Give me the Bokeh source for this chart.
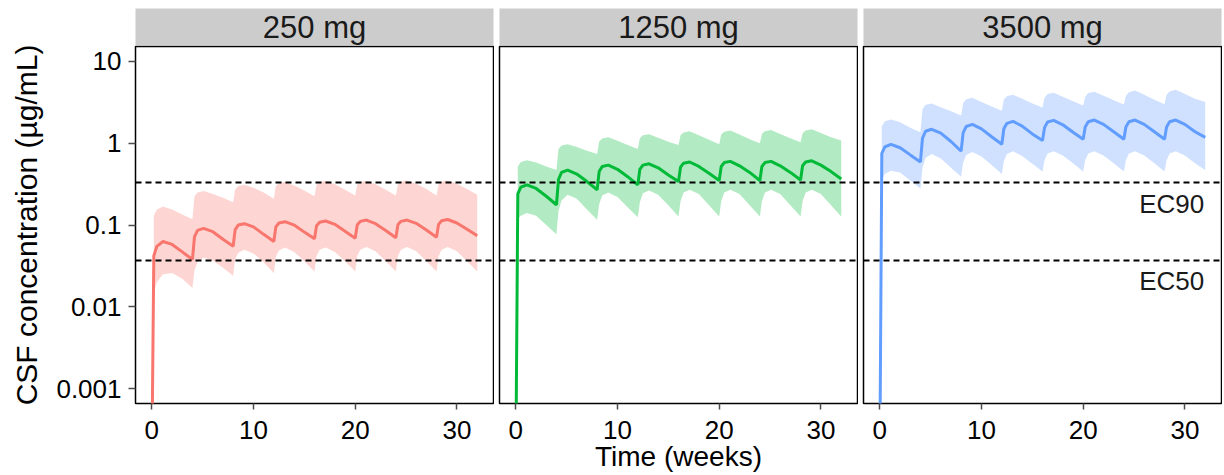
from bokeh.plotting import figure
from bokeh.models import Range1d, FixedTicker, Span
from bokeh.layouts import column, row
from bokeh.embed import file_html
from bokeh.resources import INLINE
from bokeh.core.properties import value

# ---------------- data ----------------
strip_labels = ["250 mg", "1250 mg", "3500 mg"]
colors = ["#F8766D", "#00BA38", "#619CFF"]

weeks = [0, 0.2, 0.5, 1.1, 2, 3,
         4, 4.2, 4.5, 5.1, 6, 7,
         8, 8.2, 8.5, 9.1, 10, 11,
         12, 12.2, 12.5, 13.1, 14, 15,
         16, 16.2, 16.5, 17.1, 18, 19,
         20, 20.2, 20.5, 21.1, 22, 23,
         24, 24.2, 24.5, 25.1, 26, 27,
         28, 28.2, 28.5, 29.1, 30, 31,
         32]

median_250 = [1e-4, 0.042, 0.055, 0.063, 0.058, 0.047,
              0.038, 0.072, 0.086, 0.091, 0.083, 0.067,
              0.055, 0.088, 0.100, 0.104, 0.095, 0.077,
              0.063, 0.095, 0.106, 0.110, 0.100, 0.082,
              0.068, 0.098, 0.108, 0.112, 0.102, 0.084,
              0.069, 0.100, 0.111, 0.115, 0.104, 0.086,
              0.070, 0.101, 0.111, 0.115, 0.105, 0.087,
              0.071, 0.102, 0.113, 0.117, 0.106, 0.089,
              0.074]
lower_250 = [None, 0.015, 0.020, 0.025, 0.026, 0.022,
             0.017, 0.028, 0.035, 0.040, 0.037, 0.030,
             0.024, 0.038, 0.046, 0.050, 0.045, 0.035,
             0.026, 0.041, 0.049, 0.053, 0.047, 0.036,
             0.027, 0.042, 0.050, 0.053, 0.047, 0.036,
             0.027, 0.042, 0.050, 0.054, 0.048, 0.036,
             0.027, 0.042, 0.050, 0.054, 0.048, 0.036,
             0.027, 0.042, 0.050, 0.054, 0.048, 0.036,
             0.027]
upper_250 = [None, 0.130, 0.155, 0.168, 0.155, 0.135,
             0.118, 0.225, 0.250, 0.260, 0.240, 0.215,
             0.190, 0.270, 0.300, 0.310, 0.285, 0.250,
             0.210, 0.300, 0.325, 0.335, 0.305, 0.265,
             0.225, 0.310, 0.335, 0.345, 0.315, 0.270,
             0.230, 0.310, 0.335, 0.345, 0.315, 0.270,
             0.230, 0.315, 0.340, 0.350, 0.320, 0.275,
             0.230, 0.315, 0.340, 0.350, 0.320, 0.275,
             0.235]

median_1250 = [1e-4, 0.240, 0.290, 0.310, 0.280, 0.225,
               0.177, 0.360, 0.440, 0.470, 0.420, 0.340,
               0.270, 0.450, 0.520, 0.540, 0.480, 0.390,
               0.310, 0.480, 0.540, 0.560, 0.500, 0.410,
               0.340, 0.510, 0.570, 0.590, 0.520, 0.430,
               0.350, 0.520, 0.580, 0.600, 0.530, 0.440,
               0.350, 0.520, 0.580, 0.600, 0.530, 0.440,
               0.355, 0.530, 0.590, 0.610, 0.540, 0.450,
               0.365]
lower_1250 = [None, 0.120, 0.130, 0.140, 0.130, 0.100,
              0.077, 0.150, 0.200, 0.235, 0.210, 0.155,
              0.116, 0.180, 0.230, 0.250, 0.220, 0.165,
              0.125, 0.190, 0.245, 0.265, 0.235, 0.175,
              0.127, 0.195, 0.250, 0.270, 0.240, 0.175,
              0.127, 0.195, 0.250, 0.270, 0.240, 0.175,
              0.127, 0.195, 0.250, 0.270, 0.240, 0.175,
              0.127, 0.195, 0.250, 0.270, 0.240, 0.175,
              0.127]
upper_1250 = [None, 0.520, 0.590, 0.620, 0.580, 0.520,
              0.470, 0.850, 0.940, 0.970, 0.900, 0.810,
              0.740, 1.050, 1.140, 1.180, 1.070, 0.950,
              0.850, 1.150, 1.250, 1.290, 1.170, 1.040,
              0.950, 1.250, 1.350, 1.400, 1.250, 1.100,
              0.970, 1.280, 1.380, 1.430, 1.280, 1.120,
              1.000, 1.300, 1.400, 1.450, 1.300, 1.150,
              1.030, 1.320, 1.430, 1.480, 1.330, 1.180,
              1.080]

median_3500 = [1e-4, 0.750, 0.900, 0.970, 0.880, 0.720,
               0.590, 1.150, 1.400, 1.480, 1.330, 1.050,
               0.800, 1.350, 1.600, 1.700, 1.500, 1.200,
               0.970, 1.500, 1.750, 1.850, 1.620, 1.300,
               1.080, 1.550, 1.820, 1.900, 1.680, 1.360,
               1.120, 1.580, 1.830, 1.920, 1.700, 1.380,
               1.120, 1.580, 1.830, 1.920, 1.700, 1.380,
               1.120, 1.580, 1.830, 1.920, 1.700, 1.380,
               1.180]
lower_3500 = [None, 0.360, 0.420, 0.460, 0.440, 0.350,
              0.280, 0.500, 0.660, 0.740, 0.650, 0.500,
              0.390, 0.580, 0.720, 0.780, 0.690, 0.540,
              0.420, 0.600, 0.740, 0.800, 0.700, 0.560,
              0.450, 0.620, 0.750, 0.800, 0.710, 0.570,
              0.450, 0.620, 0.750, 0.800, 0.710, 0.570,
              0.450, 0.620, 0.750, 0.800, 0.710, 0.570,
              0.450, 0.620, 0.750, 0.800, 0.710, 0.570,
              0.470]
upper_3500 = [None, 1.600, 1.850, 1.950, 1.800, 1.550,
              1.360, 2.600, 2.950, 3.050, 2.750, 2.450,
              2.180, 3.100, 3.450, 3.600, 3.200, 2.800,
              2.500, 3.400, 3.750, 3.900, 3.500, 3.050,
              2.730, 3.600, 4.000, 4.150, 3.700, 3.250,
              2.900, 3.700, 4.100, 4.250, 3.800, 3.350,
              2.970, 3.800, 4.200, 4.400, 3.900, 3.400,
              3.000, 3.900, 4.300, 4.500, 4.000, 3.500,
              3.200]

medians = [median_250, median_1250, median_3500]
lowers = [lower_250, lower_1250, lower_3500]
uppers = [upper_250, upper_1250, upper_3500]

ec_values = [0.33, 0.037]
ec_labels = ["EC90", "EC50"]

y_ticks = [0.001, 0.01, 0.1, 1, 10]
y_tick_labels = ["0.001", "0.01", "0.1", "1", "10"]
x_ticks = [0, 10, 20, 30]
x_title = "Time (weeks)"
y_title = "CSF concentration (\u00b5g/mL)"

# ---------------- layout / style ----------------
FONT = "Liberation Sans"
FRAME_W = 358
FRAME_H = 358
LEFT0 = 135
GAP = 5
RIGHT = 1
TOP = 1
BOTTOM = 70
STRIP_TOP = 8
STRIP_H = 37

strips = []
panels = []
for i in range(3):
    lb = LEFT0 if i == 0 else GAP
    w = lb + FRAME_W + RIGHT

    s = figure(width=w, height=STRIP_TOP + STRIP_H, x_range=Range1d(0, 1), y_range=Range1d(0, 1),
               toolbar_location=None, output_backend="svg",
               x_axis_location=None, y_axis_location=None,
               min_border_left=lb, min_border_right=RIGHT,
               min_border_top=STRIP_TOP, min_border_bottom=0)
    s.background_fill_color = "#CCCCCC"
    s.border_fill_color = "white"
    s.outline_line_color = None
    s.xgrid.visible = False
    s.ygrid.visible = False
    s.text(x=[0.5], y=[0.5], text=[strip_labels[i]], text_align="center",
           text_baseline="middle", text_font=value(FONT), text_font_size="31px",
           text_color="#1A1A1A")
    strips.append(s)

    p = figure(width=w, height=TOP + FRAME_H + BOTTOM,
               x_range=Range1d(-1.6, 33.6), y_range=Range1d(0.00066, 15.2),
               y_axis_type="log", toolbar_location=None, output_backend="svg",
               y_axis_location="left" if i == 0 else None,
               min_border_left=lb, min_border_right=RIGHT,
               min_border_top=TOP, min_border_bottom=BOTTOM)
    p.xgrid.visible = False
    p.ygrid.visible = False
    p.outline_line_color = "black"
    p.outline_line_width = 1.5
    p.background_fill_color = "white"
    p.border_fill_color = "white"

    c = colors[i]
    bx = [t for t, lo in zip(weeks, lowers[i]) if lo is not None]
    blo = [lo for lo in lowers[i] if lo is not None]
    bhi = [hi for hi in uppers[i] if hi is not None]
    p.varea(x=bx, y1=blo, y2=bhi, fill_color=c, fill_alpha=0.3)
    p.line(weeks, medians[i], line_color=c, line_width=3)

    for ev in ec_values:
        p.add_layout(Span(location=ev, dimension="width", line_color="black",
                          line_dash="6 4", line_width=2))

    xa = p.xaxis[0]
    xa.ticker = FixedTicker(ticks=x_ticks, minor_ticks=[])
    xa.axis_line_color = None
    xa.major_tick_out = 6
    xa.major_tick_in = 0
    xa.major_tick_line_color = "#4D4D4D"
    xa.major_tick_line_width = 1.5
    xa.major_label_standoff = 11
    xa.major_label_text_font = FONT
    xa.major_label_text_font_size = "26px"
    xa.major_label_text_color = "black"
    # same axis-title slot on every panel so the three frames stay equal
    xa.axis_label = x_title if i == 1 else " "
    xa.axis_label_standoff = -1
    xa.axis_label_text_font = FONT
    xa.axis_label_text_font_size = "28px"
    xa.axis_label_text_font_style = "normal"
    xa.axis_label_text_color = "black"

    if i == 0:
        ya = p.yaxis[0]
        ya.ticker = FixedTicker(ticks=y_ticks, minor_ticks=[])
        ya.major_label_overrides = {t: l for t, l in zip(y_ticks, y_tick_labels)}
        ya.axis_line_color = None
        ya.major_tick_out = 7
        ya.major_tick_in = 0
        ya.major_tick_line_color = "#4D4D4D"
        ya.major_tick_line_width = 1.5
        ya.major_label_standoff = 7
        ya.major_label_text_font = FONT
        ya.major_label_text_font_size = "26px"
        ya.major_label_text_color = "black"
        ya.axis_label = y_title
        ya.axis_label_standoff = 10
        ya.axis_label_text_font = FONT
        ya.axis_label_text_font_size = "30px"
        ya.axis_label_text_font_style = "normal"
        ya.axis_label_text_color = "black"

    if i == 2:
        p.text(x=[31.9] * len(ec_values), y=ec_values, text=ec_labels,
               text_align="right", text_baseline="top", y_offset=6,
               text_font=value(FONT), text_font_size="26px", text_color="#1A1A1A")

    panels.append(p)

layout = column(row(*strips), row(*panels))
open("out.html", "w").write(file_html(layout, INLINE))
